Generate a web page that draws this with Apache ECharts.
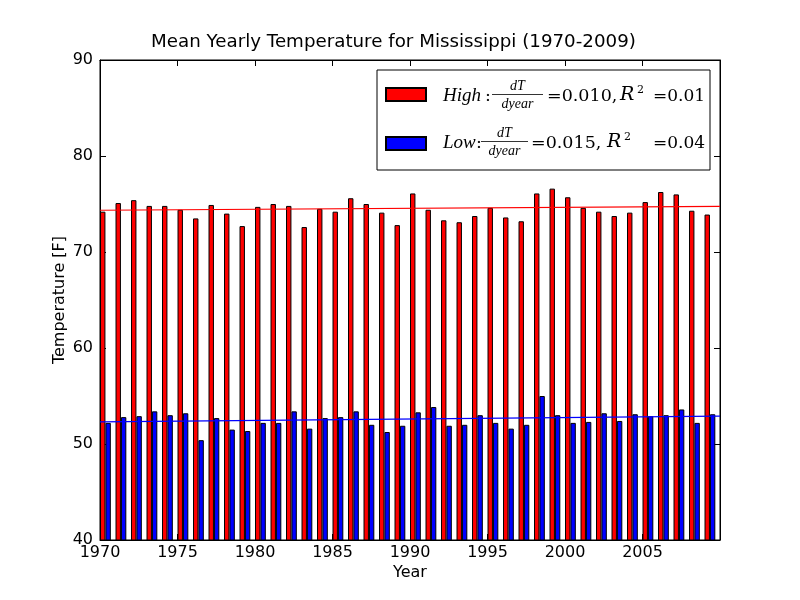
<!DOCTYPE html>
<html>
<head>
<meta charset="utf-8">
<script src="https://cdn.jsdelivr.net/npm/echarts@6/dist/echarts.min.js"></script>
<style>
html,body{margin:0;padding:0;background:#fff;}
#chart{width:800px;height:600px;}
</style>
</head>
<body>
<div id="chart"></div>
<script>
// ---- data ----
const years = [1970,1971,1972,1973,1974,1975,1976,1977,1978,1979,
               1980,1981,1982,1983,1984,1985,1986,1987,1988,1989,
               1990,1991,1992,1993,1994,1995,1996,1997,1998,1999,
               2000,2001,2002,2003,2004,2005,2006,2007,2008,2009];
const highTemps = [74.2,75.1,75.4,74.8,74.8,74.4,73.5,74.9,74.0,72.7,
                   74.7,75.0,74.8,72.6,74.5,74.2,75.6,75.0,74.1,72.8,
                   76.1,74.4,73.3,73.1,73.75,74.6,73.6,73.2,76.1,76.6,
                   75.7,74.6,74.2,73.75,74.1,75.2,76.25,76.0,74.3,73.9];
const lowTemps  = [52.2,52.8,52.9,53.4,53.0,53.2,50.4,52.7,51.5,51.35,
                   52.2,52.2,53.4,51.6,52.7,52.8,53.4,52.0,51.25,51.9,
                   53.3,53.85,51.9,52.0,53.0,52.2,51.6,52.0,55.0,53.0,
                   52.2,52.3,53.2,52.4,53.1,52.9,53.0,53.6,52.2,53.1];
const trendYears = [1970, 2010];
const trendHigh = [74.35, 74.75];
const trendLow  = [52.3, 52.9];
const barWidthYears = 0.35;   // bar width in years (matplotlib width)
const xTicks = [1970,1975,1980,1985,1990,1995,2000,2005];
const yTicks = [40,50,60,70,80,90];

// ---- build ----
const pairX = years.map(y => y + barWidthYears);  // group of two bars: red [y, y+0.35], blue [y+0.35, y+0.7]
const highData = pairX.map((x,i) => [x, highTemps[i]]);
const lowData  = pairX.map((x,i) => [x, lowTemps[i]]);
const trendHighData = trendYears.map((x,i) => [x, trendHigh[i]]);
const trendLowData  = trendYears.map((x,i) => [x, trendLow[i]]);

const chart = echarts.init(document.getElementById('chart'), null, {renderer:'canvas'});
const SANS = '"DejaVu Sans", sans-serif';
const SERIF = '"DejaVu Serif", serif';
const ISERIF = '"Liberation Serif", serif';

// xs: x positions of pieces [name, colon, fracLeft, fracRight, equals, R, sup, eq2]
function mathRow(yb, name, slope, r2, xs) {
  const f = '17.5px ' + SERIF;
  const f2 = '17px ' + SERIF;
  const fi = 'italic 19px ' + ISERIF;
  const fr = 'italic 19px ' + SERIF;
  const small = 'italic 14px ' + ISERIF;
  const fc = (xs[2] + xs[3]) / 2;
  return [
    {type:'text', x:xs[0], y:yb, style:{text:name, font:fi, fill:'#000', verticalAlign:'bottom'}},
    {type:'text', x:xs[1], y:yb, style:{text:':', font:f, fill:'#000', verticalAlign:'bottom'}},
    {type:'text', x:fc, y:yb-12, style:{text:'dT', font:small, fill:'#000', align:'center', verticalAlign:'bottom'}},
    {type:'line', shape:{x1:xs[2], y1:yb-10.5, x2:xs[3], y2:yb-10.5}, style:{stroke:'#000', lineWidth:0.8}},
    {type:'text', x:fc, y:yb+6, style:{text:'dyear', font:small, fill:'#000', align:'center', verticalAlign:'bottom'}},
    {type:'text', x:xs[4], y:yb, style:{text:'=' + slope + ',', font:f, fill:'#000', verticalAlign:'bottom'}},
    {type:'text', x:xs[5], y:yb, style:{text:'R', font:fr, fill:'#000', verticalAlign:'bottom'}},
    {type:'text', x:xs[6], y:yb-9, style:{text:'2', font:'11px ' + SERIF, fill:'#000', verticalAlign:'bottom'}},
    {type:'text', x:xs[7], y:yb, style:{text:'=' + r2, font:f2, fill:'#000', verticalAlign:'bottom'}}
  ];
}

const option = {
  animation: false,
  backgroundColor: '#fff',
  title: {
    text: 'Mean Yearly Temperature for Mississippi (1970-2009)',
    left: 151, top: 33, padding: 0,
    textStyle: {fontFamily: SANS, fontSize: 18.25, fontWeight: 'normal', color: '#000'}
  },
  grid: {left:100, right:80, top:60, bottom:60, show:true, borderColor:'#000', borderWidth:1, backgroundColor:'transparent'},
  legend: {
    orient:'vertical', left:385, top:87, padding:0, itemWidth:40, itemHeight:13, itemGap:34,
    icon:'rect', formatter: () => '', textStyle:{fontSize:8},
    data:['High','Low'], selectedMode:false
  },
  xAxis: [{
    type:'value', min:1970, max:2010, interval:5,
    name:'Year', nameLocation:'middle', nameGap:25, nameMoveOverlap:false,
    nameTextStyle:{fontFamily:SANS, fontSize:16, color:'#000'},
    axisLine:{show:true, lineStyle:{color:'#000'}},
    axisTick:{show:true, inside:true, length:6, lineStyle:{color:'#000'}},
    axisLabel:{fontFamily:SANS, fontSize:16, color:'#000', margin:5,
      formatter: v => xTicks.includes(v) ? String(v) : ''},
    splitLine:{show:false}
  },{
    type:'value', min:1970, max:2010, interval:5, position:'top',
    axisLine:{show:true, lineStyle:{color:'#000'}},
    axisTick:{show:true, inside:true, length:6, lineStyle:{color:'#000'}},
    axisLabel:{show:false}, splitLine:{show:false}
  }],
  yAxis: [{
    type:'value', min:40, max:90, interval:10,
    name:'Temperature [F]', nameLocation:'middle', nameGap:32, nameRotate:90, nameMoveOverlap:false,
    nameTextStyle:{fontFamily:SANS, fontSize:16, color:'#000'},
    axisLine:{show:true, lineStyle:{color:'#000'}},
    axisTick:{show:true, inside:true, length:6, lineStyle:{color:'#000'}},
    axisLabel:{fontFamily:SANS, fontSize:16, color:'#000', margin:7,
      formatter: v => yTicks.includes(v) ? String(v) : ''},
    splitLine:{show:false}
  },{
    type:'value', min:40, max:90, interval:10, position:'right',
    axisLine:{show:true, lineStyle:{color:'#000'}},
    axisTick:{show:true, inside:true, length:6, lineStyle:{color:'#000'}},
    axisLabel:{show:false}, splitLine:{show:false}
  }],
  series: [
    {name:'High', type:'bar', data:highData, barWidth:5.4, barGap:'0%', clip:true,
     itemStyle:{color:'#ff0000', borderColor:'#000', borderWidth:1}, z:2},
    {name:'Low', type:'bar', data:lowData, barWidth:5.4, barGap:'0%', clip:true,
     itemStyle:{color:'#0000ff', borderColor:'#000', borderWidth:1}, z:2},
    {name:'HighTrend', type:'line', data:trendHighData, symbol:'none', silent:true,
     lineStyle:{color:'#ff0000', width:1.2}, z:3},
    {name:'LowTrend', type:'line', data:trendLowData, symbol:'none', silent:true,
     lineStyle:{color:'#0000ff', width:1.2}, z:3}
  ],
  graphic: [
    {type:'rect', shape:{x:377, y:70, width:333, height:100}, style:{fill:'#fff', stroke:'#000', lineWidth:1}, z:0}
  ].concat(
    mathRow(105, 'High', '0.010', '0.01', [443, 485, 492, 543, 547, 620, 637, 653]),
    mathRow(152, 'Low',  '0.015', '0.04', [443, 476, 481, 528, 531, 607, 624, 653])
  )
};
chart.setOption(option);
</script>
</body>
</html>
